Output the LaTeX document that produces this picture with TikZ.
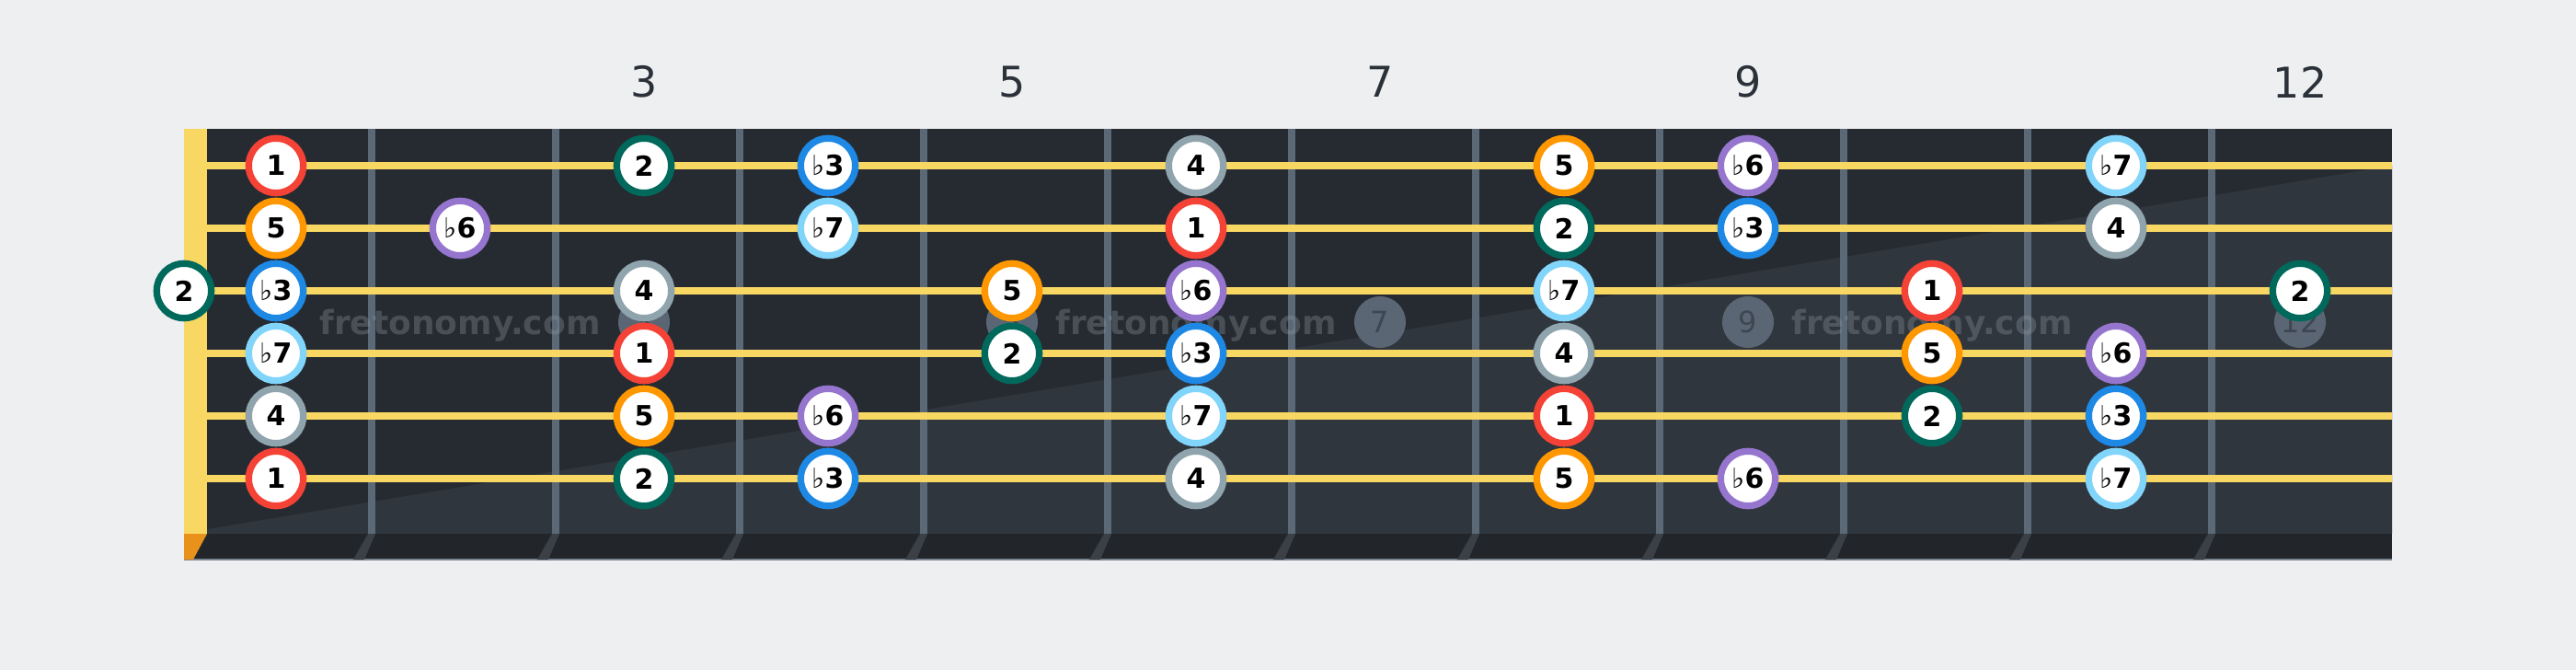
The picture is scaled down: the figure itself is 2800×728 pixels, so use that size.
\documentclass[tikz,border=0pt]{standalone}
\usepackage{fontspec}
\setmainfont{DejaVu Sans}
\usepackage{xcolor}
\usetikzlibrary{positioning}

\definecolor{fundo}{HTML}{EEEFF1}
\definecolor{braco}{HTML}{262B32}
\definecolor{bracoclaro}{HTML}{30363E}
\definecolor{borda}{HTML}{22262B}
\definecolor{bordalinha}{HTML}{7B8591}
\definecolor{traste}{HTML}{5B6977}
\definecolor{sombra}{HTML}{3B4046}
\definecolor{corda}{HTML}{F8D762}
\definecolor{laranja}{HTML}{E8921C}
\definecolor{marca}{HTML}{5A6673}
\definecolor{marcatxt}{HTML}{3E4751}
\definecolor{numtxt}{HTML}{2B3138}
\definecolor{marcadagua}{HTML}{8C949C}
\definecolor{c1}{HTML}{F44336}
\definecolor{c2}{HTML}{00695C}
\definecolor{cb3}{HTML}{1E88E5}
\definecolor{c4}{HTML}{90A4AE}
\definecolor{c5}{HTML}{FF9800}
\definecolor{cb6}{HTML}{9575CD}
\definecolor{cb7}{HTML}{81D4FA}

\newcommand{\bemol}{{\mdseries ♭}}

\begin{document}
\begin{tikzpicture}[x=1pt, y=-1pt,
    nota/.style={circle, fill=white, line width=7.3pt, minimum size=59.3pt,
      inner sep=0pt, font=\fontsize{30}{32}\selectfont\bfseries},
    marcador/.style={circle, fill=marca, minimum size=56pt, inner sep=0pt,
      text=marcatxt, font=\fontsize{32}{34}\selectfont},
    numcasa/.style={text=numtxt, font=\fontsize{46}{50}\selectfont},
    agua/.style={anchor=base, text=marcadagua, text opacity=0.35,
      font=\fontsize{36}{38}\selectfont\bfseries}]
  % Fundo
  \fill[fundo] (0,0) rectangle (2800,728);
  \useasboundingbox (0,0) rectangle (2800,728);

  % Braco
  \fill[braco] (200,140) rectangle (2600,580);
  \fill[bracoclaro] (225,575) -- (2600,180) -- (2600,580) -- (225,580) -- cycle;
  \fill[borda] (200,580) rectangle (2600,608);
  \fill[bordalinha] (200,607) rectangle (2600,609);

  % Pestana
  \fill[corda] (200,140) rectangle (225,580);
  \fill[laranja] (200,580) -- (225,580) -- (210,608) -- (200,608) -- cycle;

  % Trastes
  \foreach \n in {1,...,11} {
    \fill[traste] ({200*\n+200},140) rectangle ({200*\n+208},580);
    \fill[sombra] ({200*\n+200},580) -- ({200*\n+208},580)
      -- ({200*\n+196},608) -- ({200*\n+184},608) -- cycle;
  }

  % Numeros das casas
  \foreach \f/\x in {3/700, 5/1100, 7/1500, 9/1900, 12/2500} {
    \node[numcasa] (fn\f) at (\x,89) {\f};
    \node[marcador] (m\f) at (\x,350) {\f};
  }

  % Marca d'agua
  \foreach \x in {500,1300,2100}
    \node[agua] (wm\x) at (\x,363) {fretonomy.com};

  % Cordas
  \foreach \s in {1,...,6}
    \draw[corda, line width=7.5pt] (225,{180+68*(\s-1)}) -- (2600,{180+68*(\s-1)});

  % Notas (corda/casa/grau/cor)
  \node[nota, draw=c2] (n3-0) at (200,316) {2};
  \foreach \s/\f/\lab/\cor in {
      1/1/1/c1, 1/3/2/c2, 1/4/\bemol3/cb3, 1/6/4/c4, 1/8/5/c5, 1/9/\bemol6/cb6, 1/11/\bemol7/cb7,
      2/1/5/c5, 2/2/\bemol6/cb6, 2/4/\bemol7/cb7, 2/6/1/c1, 2/8/2/c2, 2/9/\bemol3/cb3, 2/11/4/c4,
      3/1/\bemol3/cb3, 3/3/4/c4, 3/5/5/c5, 3/6/\bemol6/cb6, 3/8/\bemol7/cb7, 3/10/1/c1, 3/12/2/c2,
      4/1/\bemol7/cb7, 4/3/1/c1, 4/5/2/c2, 4/6/\bemol3/cb3, 4/8/4/c4, 4/10/5/c5, 4/11/\bemol6/cb6,
      5/1/4/c4, 5/3/5/c5, 5/4/\bemol6/cb6, 5/6/\bemol7/cb7, 5/8/1/c1, 5/10/2/c2, 5/11/\bemol3/cb3,
      6/1/1/c1, 6/3/2/c2, 6/4/\bemol3/cb3, 6/6/4/c4, 6/8/5/c5, 6/9/\bemol6/cb6, 6/11/\bemol7/cb7}
    \node[nota, draw=\cor] (n\s-\f) at ({200*\f+100},{180+68*(\s-1)}) {\lab};
\end{tikzpicture}
\end{document}
